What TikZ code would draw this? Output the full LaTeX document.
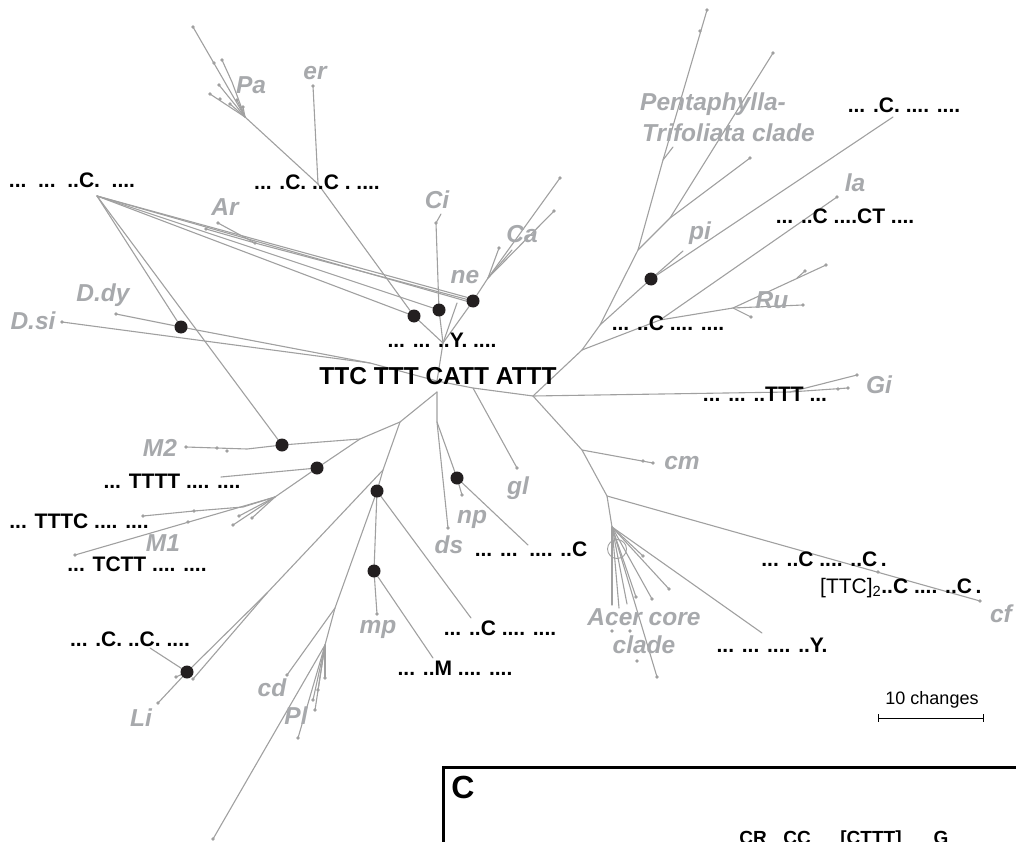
\documentclass[tikz,border=0pt]{standalone}
\usepackage{fontspec}
\setmainfont{Liberation Sans}
\definecolor{brc}{RGB}{160,160,160}
\definecolor{lbc}{RGB}{167,169,172}
\definecolor{ink}{RGB}{35,31,32}
\tikzset{
  br/.style={draw=brc, line width=1.1pt, line cap=round, line join=round},
  bigdot/.style={circle, fill=ink, minimum size=13pt, inner sep=0pt},
  seq/.style={font=\fontsize{21}{21}\selectfont\bfseries, text=black, inner sep=0pt},
  seqreg/.style={font=\fontsize{21}{21}\selectfont, text=black, inner sep=0pt},
  taxon/.style={font=\fontsize{24.5}{26}\selectfont\bfseries\itshape, text=lbc, inner sep=0pt},
}
\begin{document}
\begin{tikzpicture}[x=1pt,y=-1pt]
\useasboundingbox (0,0) rectangle (1016,842);
% ---------- coordinates ----------
\coordinate (H) at (437,381); \coordinate (Hd) at (437,392);
\coordinate (J1) at (443,343); \coordinate (Jg) at (473,388);
\coordinate (R) at (533,396); \coordinate (Jd) at (370,363);
\coordinate (Dsi) at (62,322); \coordinate (Ddyt) at (116,314);
\coordinate (J1s) at (457,303);
\coordinate (Jer) at (318,184); \coordinate (Pab) at (245,117);
\coordinate (PaT) at (193,27); \coordinate (Pa1) at (232,82); \coordinate (Pa1t) at (222,60);
\coordinate (Pa2) at (219,85); \coordinate (Pa3) at (210,94); \coordinate (Pa4) at (237,100);
\coordinate (Pa5) at (243,107); \coordinate (Pa6) at (230,104); \coordinate (ert) at (313,86);
\coordinate (Cit) at (436,223); \coordinate (Cis) at (441,214);
\coordinate (Jca) at (488,278); \coordinate (Ca1) at (499,248); \coordinate (Ca2) at (512,250);
\coordinate (Ca3) at (554,211); \coordinate (Ca4) at (560,178);
\coordinate (Ar0) at (255,243); \coordinate (Ar1) at (218,223); \coordinate (Ar2) at (206,229);
\coordinate (Lc1) at (97,196);
\coordinate (Jl) at (400,422); \coordinate (Jm2) at (360,439);
\coordinate (M2a) at (247,449); \coordinate (M2t) at (186,447);
\coordinate (Jm1) at (275,497); \coordinate (Ltt) at (221,477);
\coordinate (M1a) at (243,507); \coordinate (M1b) at (194,511); \coordinate (M1t) at (143,516);
\coordinate (M1c) at (75,555); \coordinate (M1d) at (233,525); \coordinate (M1e) at (239,516);
\coordinate (M1f) at (252,518);
\coordinate (Jm) at (383,470); \coordinate (mpt) at (377,614);
\coordinate (Lm) at (433,658); \coordinate (Lc2) at (471,618);
\coordinate (Jpl) at (335,608); \coordinate (cdt) at (287,675); \coordinate (Jpl2) at (325,645);
\coordinate (Pllong) at (213,839); \coordinate (Pl1) at (325,678); \coordinate (Pl2) at (318,690);
\coordinate (Pl3) at (313,700); \coordinate (Pl4) at (315,710); \coordinate (Pl5) at (298,738);
\coordinate (Jli) at (267,593); \coordinate (Li1) at (158,703); \coordinate (Li2) at (176,677);
\coordinate (Li3) at (193,679); \coordinate (Lli) at (150,648);
\coordinate (Jn) at (437,422); \coordinate (dst) at (448,528); \coordinate (npt) at (462,495);
\coordinate (Lnp) at (528,545); \coordinate (glt) at (517,468);
\coordinate (Ja) at (582,350); \coordinate (Jb) at (600,325); \coordinate (Jc) at (638,250);
\coordinate (Jd2) at (663,160); \coordinate (Tt) at (707,10); \coordinate (Jd2s) at (673,147);
\coordinate (Je) at (670,218); \coordinate (Te1) at (773,53); \coordinate (Te2) at (750,158);
\coordinate (pit) at (683,251); \coordinate (Lpi) at (893,117);
\coordinate (Jru) at (660,320); \coordinate (lat) at (837,197); \coordinate (Jru2) at (733,308);
\coordinate (Ru1) at (826,265); \coordinate (Ru1b) at (797,278); \coordinate (Ru1c) at (805,271);
\coordinate (Ru2) at (803,305); \coordinate (Ru3) at (751,317);
\coordinate (Jgi) at (790,392); \coordinate (Gi1) at (848,388); \coordinate (Gi2) at (857,375);
\coordinate (Jcm) at (582,450); \coordinate (cmt) at (653,463); \coordinate (Jcf) at (607,496);
\coordinate (cft) at (980,601); \coordinate (Jac) at (612,527);
\coordinate (Ac1) at (643,556); \coordinate (Ac2) at (669,589); \coordinate (AcY) at (762,633);
\coordinate (Ac3) at (612,605); \coordinate (Ac4) at (619,608); \coordinate (Ac5) at (627,604);
\coordinate (Ac6) at (636,597); \coordinate (Ac7) at (652,599); \coordinate (Ac8) at (657,677);
% big dots (positions)
\coordinate (cD1) at (414,316); \coordinate (cD2) at (439,310); \coordinate (cD3) at (473,301);
\coordinate (cDdy) at (181,327); \coordinate (cDm2) at (282,445); \coordinate (cDtt) at (317,468);
\coordinate (cDp) at (377,491); \coordinate (cDmp) at (374,571); \coordinate (cDli) at (187,672);
\coordinate (cDnp) at (457,478); \coordinate (cDpi) at (651,279);
% ---------- branches ----------
\draw[br] (Dsi) -- (Jd) -- (H) -- (Jg) -- (R);
\draw[br] (Ddyt) -- (cDdy) -- (Jd);
\draw[br] (H) -- (J1);
\draw[br] (J1) -- (cD1) -- (Jer) -- (Pab) -- (PaT);
\draw[br] (Jer) -- (ert);
\draw[br] (Pab) -- (Pa1) -- (Pa1t);
\draw[br] (Pab) -- (Pa2); \draw[br] (Pab) -- (Pa3); \draw[br] (Pab) -- (Pa4);
\draw[br] (Pab) -- (Pa5); \draw[br] (Pab) -- (Pa6);
\draw[br] (J1) -- (cD2) -- (Cit) -- (Cis);
\draw[br] (J1) -- (J1s);
\draw[br] (J1) -- (cD3) -- (Jca) -- (Ca1);
\draw[br] (Jca) -- (Ca2); \draw[br] (Jca) -- (Ca3); \draw[br] (Jca) -- (Ca4);
\draw[br] (cD3) -- (Ar0) -- (Ar1); \draw[br] (Ar0) -- (Ar2);
% label connectors from ..C. label
\draw[br] (Lc1) -- (cD1); \draw[br] (Lc1) -- (cD2);
\draw[br] (Lc1) -- ([yshift=2pt]cD3); \draw[br] (Lc1) -- ([yshift=-2pt]cD3);
\draw[br] (Lc1) -- (cDm2); \draw[br] (Lc1) -- (cDdy);
% lower left
\draw[br] (Hd) -- (Jl) -- (Jm2) -- (cDm2) -- (M2a) -- (M2t);
\draw[br] (Jm2) -- (cDtt) -- (Jm1);
\draw[br] (cDtt) -- (Ltt);
\draw[br] (Jm1) -- (M1a) -- (M1b) -- (M1t);
\draw[br] (Jm1) -- (M1c); \draw[br] (Jm1) -- (M1d); \draw[br] (Jm1) -- (M1e); \draw[br] (Jm1) -- (M1f);
\draw[br] (Jl) -- (Jm) -- (cDp) -- (cDmp) -- (mpt);
\draw[br] (cDmp) -- (Lm); \draw[br] (cDp) -- (Lc2);
\draw[br] (cDp) -- (Jpl) -- (cdt);
\draw[br] (Jpl) -- (Jpl2) -- (Pllong);
\draw[br] (Jpl2) -- (Pl1); \draw[br] (Jpl2) -- (Pl2); \draw[br] (Jpl2) -- (Pl3);
\draw[br] (Jpl2) -- (Pl4); \draw[br] (Jpl2) -- (Pl5);
\draw[br] (Jm) -- (Jli) -- (cDli) -- (Li1);
\draw[br] (cDli) -- (Li2); \draw[br] (Jli) -- (Li3);
\draw[br] (Lli) -- (cDli);
\draw[br] (Hd) -- (Jn) -- (dst);
\draw[br] (Jn) -- (cDnp) -- (npt); \draw[br] (cDnp) -- (Lnp);
\draw[br] (Jg) -- (glt);
% right
\draw[br] (R) -- (Ja) -- (Jb) -- (Jc) -- (Jd2) -- (Tt);
\draw[br] (Jd2) -- (Jd2s);
\draw[br] (Jc) -- (Je) -- (Te1); \draw[br] (Je) -- (Te2);
\draw[br] (Jb) -- (cDpi) -- (Lpi); \draw[br] (cDpi) -- (pit);
\draw[br] (Ja) -- (Jru) -- (lat);
\draw[br] (Jru) -- (Jru2) -- (Ru1); \draw[br] (Ru1b) -- (Ru1c);
\draw[br] (Jru2) -- (Ru2); \draw[br] (Jru2) -- (Ru3);
\draw[br] (R) -- (Jgi) -- (Gi1); \draw[br] (Jgi) -- (Gi2);
\draw[br] (R) -- (Jcm) -- (cmt);
\draw[br] (Jcm) -- (Jcf) -- (cft);
\draw[br] (Jcf) -- (Jac);
\foreach \t in {Ac1,Ac2,AcY,Ac3,Ac4,Ac5,Ac6,Ac7,Ac8} \draw[br] (Jac) -- (\t);
\draw[brc, line width=0.9pt] (617,549) circle[radius=9.5pt];
% tip dots
\foreach \p in {PaT,Pa1t,Pa2,Pa3,Pa4,Pa5,Pa6,ert,Cit,Ca1,Ca3,Ca4,Ar0,Ar1,Ar2,Dsi,Ddyt,M2t,M1t,M1b,M1c,M1d,M1e,M1f,mpt,cdt,Pl1,Pl2,Pl3,Pl4,Pl5,Pllong,Li1,Li2,Li3,dst,npt,glt,Tt,Te1,Te2,lat,Ru1,Ru1c,Ru2,Ru3,Gi1,Gi2,cmt,cft,Ac1,Ac2,Ac6,Ac7,Ac8}
  \fill[brc] (\p) circle[radius=1.8pt];
\foreach \x/\y in {214/63,220/99,227/451,217/448,188/522,700/31,838/389,643/461,878/572,612/631,630/631,637/661}
  \fill[brc] (\x,\y) circle[radius=1.8pt];
% big dots
\foreach \d in {D1,D2,D3,Ddy,Dm2,Dtt,Dp,Dmp,Dli,Dnp,Dpi}
  \node[bigdot] (\d) at (c\d) {};
% ---------- taxon labels ----------
\node[taxon] (tPa) at (251,85) {Pa};
\node[taxon] (ter) at (315,73) {er};
\node[taxon] (tAr) at (225,207) {Ar};
\node[taxon] (tCi) at (437,200) {Ci};
\node[taxon] (tne) at (465,277) {ne};
\node[taxon] (tCa) at (522,234) {Ca};
\node[taxon] (tDdy) at (103,295) {D.dy};
\node[taxon] (tDsi) at (33,321) {D.si};
\node[taxon, anchor=west] (tPe) at (640,104) {Pentaphylla-};
\node[taxon, anchor=west] (tTr) at (642,133) {Trifoliata clade};
\node[taxon] (tpi) at (700,233) {pi};
\node[taxon] (tla) at (855,183) {la};
\node[taxon] (tRu) at (772,300) {Ru};
\node[taxon] (tGi) at (879,385) {Gi};
\node[taxon] (tcm) at (682,463) {cm};
\node[taxon] (tcf) at (1001,614) {cf};
\node[taxon] (tAc1) at (644,617) {Acer core};
\node[taxon] (tAc2) at (644,645) {clade};
\node[taxon] (tM2) at (160,448) {M2};
\node[taxon] (tM1) at (163,543) {M1};
\node[taxon] (tLi) at (141,718) {Li};
\node[taxon] (tcd) at (272,688) {cd};
\node[taxon] (tPl) at (296,716) {Pl};
\node[taxon] (tmp) at (378,629) {mp};
\node[taxon] (tnp) at (472,519) {np};
\node[taxon] (tds) at (449,545) {ds};
\node[taxon] (tgl) at (518,488) {gl};
% ---------- sequence labels ----------
\node[font=\fontsize{24.5}{26}\selectfont\bfseries, inner sep=0pt] (root) at (438,376) {TTC TTT CATT ATTT};
\node[seq] (s1) at (72,180) {...\ \ ...\ \ ..C.\ \ ....};
\node[seq] (s2) at (317,182) {... .C. ..C . ....};
\node[seq] (s3) at (442,340) {... ... ..Y. ....};
\node[seq] (s4) at (904,105) {... .C. .... ....};
\node[seq] (s5) at (845,216) {... ..C ....CT ....};
\node[seq] (s6) at (668,323) {... ..C .... ....};
\node[seq] (s7) at (765,394) {... ... ..TTT ...};
\node[seq] (s8) at (824,559) {... ..C .... ..C\,.};
\node[seq, anchor=west] (s9) at (820,588) {\mdseries[TTC]\textsubscript{2}\bfseries..C .... ..C\,.};
\node[seq] (s10) at (772,645) {... ... .... ..Y.};
\node[seq] (s11) at (531,549) {... ...\ \ .... ..C};
\node[seq] (s12) at (500,628) {... ..C .... ....};
\node[seq] (s13) at (455,668) {... ..M .... ....};
\node[seq] (s14) at (172,481) {... TTTT .... ....};
\node[seq] (s15) at (79,521) {... TTTC .... ....};
\node[seq] (s16) at (137,564) {... TCTT .... ....};
\node[seq] (s17) at (130,639) {... .C. ..C. ....};
% scale bar
\node[font=\fontsize{18}{18}\selectfont, inner sep=0pt] (scl) at (932,700) {10 changes};
\coordinate (sb1) at (878,718); \coordinate (sb2) at (983,718);
\draw[line width=1pt] (sb1) -- (sb2);
\draw[line width=1pt] ([yshift=4pt]sb1) -- ([yshift=-4pt]sb1);
\draw[line width=1pt] ([yshift=4pt]sb2) -- ([yshift=-4pt]sb2);
% ---------- panel C box ----------
\draw[line width=3pt] (443,900) -- (443,767) -- (1040,767);
\node[font=\fontsize{32}{32}\selectfont\bfseries, inner sep=0pt] (pC) at (463,787) {C};
\node[font=\fontsize{19}{19}\selectfont\bfseries, inner sep=0pt, anchor=base] (bCR) at (753,844) {CR};
\node[font=\fontsize{19}{19}\selectfont\bfseries, inner sep=0pt, anchor=base] (bCC) at (797,844) {CC};
\node[font=\fontsize{19}{19}\selectfont\bfseries, inner sep=0pt, anchor=base] (bCT) at (871,844) {[CTTT]};
\node[font=\fontsize{19}{19}\selectfont\bfseries, inner sep=0pt, anchor=base] (bG) at (941,844) {G};
\end{tikzpicture}
\end{document}
